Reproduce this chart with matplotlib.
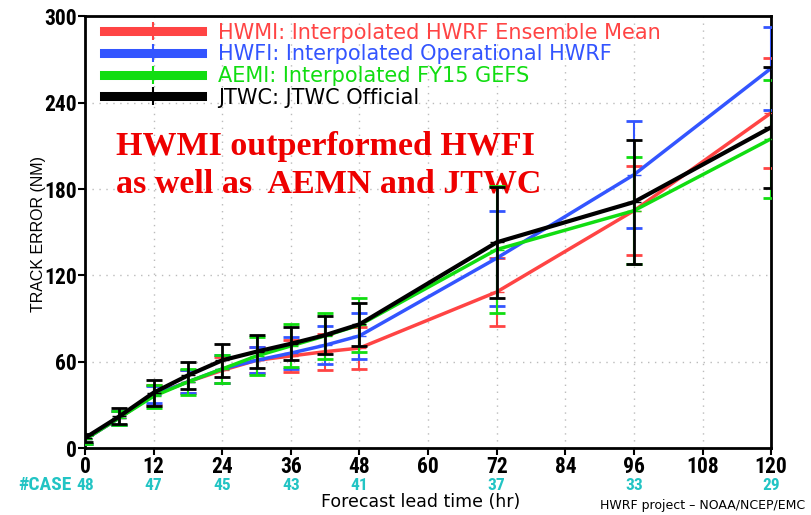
import matplotlib
matplotlib.use("Agg")
import matplotlib.pyplot as plt
from matplotlib.lines import Line2D

# forecast lead times (hr)
hours = [0, 6, 12, 18, 24, 30, 36, 42, 48, 72, 96, 120]

hwmi_mean = [6, 21, 37, 46, 54, 61, 64, 67, 69.5, 108.5, 165, 233]
hwmi_err = [3, 5, 7, 8, 9, 9, 11, 12.5, 14.5, 23.5, 31, 38]
hwfi_mean = [6, 21, 37, 46, 55, 61, 66, 71.5, 78, 132, 190, 264]
hwfi_err = [3, 5, 6, 8, 10, 9, 11, 13, 16, 33, 37, 29]
aemi_mean = [6, 21, 36, 46, 55, 64, 71, 78, 85.5, 138, 165, 215]
aemi_err = [3, 5, 8, 9, 10, 13, 15, 16, 19, 44, 37, 41]
jtwc_mean = [7, 22, 38.5, 50.5, 61, 67, 72.5, 78.5, 86, 143, 171, 223]
jtwc_err = [3, 5.5, 9, 9.5, 11.5, 11.5, 11.5, 13, 15, 38.5, 43, 42]

labels = ["HWMI: Interpolated HWRF Ensemble Mean",
          "HWFI: Interpolated Operational HWRF",
          "AEMI: Interpolated FY15 GEFS",
          "JTWC: JTWC Official"]
colors = ["#ff4444", "#3355ff", "#11dd11", "#000000"]

case_hours = [0, 12, 24, 36, 48, 72, 96, 120]
case_counts = [48, 47, 45, 43, 41, 37, 33, 29]

tickfont = ["Roboto Condensed", "DejaVu Sans"]
cyan = "#22c4c4"

fig = plt.figure(figsize=(8.12, 5.15), dpi=100)
ax = fig.add_axes([0.1047, 0.13, 0.845, 0.838])

series = [(hwmi_mean, hwmi_err), (hwfi_mean, hwfi_err),
          (aemi_mean, aemi_err), (jtwc_mean, jtwc_err)]
for i, (m, e) in enumerate(series):
    lw = 3 if i == 3 else 2.5
    ax.errorbar(hours, m, yerr=e, color=colors[i], lw=lw, elinewidth=2 if i == 3 else 1.5,
                capsize=6, capthick=2, marker="_", markersize=10, zorder=3 + i)

ax.set_xlim(0, 120)
ax.set_ylim(0, 300)
ax.set_xticks(range(0, 121, 12))
ax.set_yticks(range(0, 301, 60))
ax.grid(True, color="#bbbbbb", linestyle=(0, (1, 4)), lw=1)
for s in ax.spines.values():
    s.set_linewidth(2)
ax.tick_params(width=1.5, length=5, labelsize=15.5, pad=1)
for t in ax.get_xticklabels() + ax.get_yticklabels():
    t.set_family(tickfont)
    t.set_fontweight("bold")

handles = [Line2D([0], [0], color=c, lw=6.5, marker="+", markersize=13, markeredgewidth=1.5)
           for c in colors]
leg = ax.legend(handles, labels, loc="upper left", bbox_to_anchor=(0.018, 1.0),
                frameon=False, handlelength=4.7, labelspacing=0.08, borderaxespad=0.0,
                borderpad=0.3, handletextpad=0.8,
                prop={"family": "DejaVu Sans", "size": 15})
for txt, c in zip(leg.get_texts(), colors):
    txt.set_color(c)

ax.text(0.045, 0.655, "HWMI outperformed HWFI\nas well as  AEMN and JTWC",
        transform=ax.transAxes, color="#ee0000", fontsize=24.5, fontweight="bold",
        family=["Liberation Serif", "DejaVu Serif"], linespacing=1.3, va="center")

fig.text(0.047, 0.545, "TRACK ERROR (NM)", rotation=90, ha="center", va="center",
         fontsize=11.5, family=["Liberation Sans", "DejaVu Sans"])
fig.text(0.518, 0.026, "Forecast lead time (hr)", ha="center", va="center",
         fontsize=12.5, family="DejaVu Sans")
fig.text(0.022, 0.058, "#CASE", ha="left", va="center", color=cyan,
         fontsize=14, fontweight="bold", family=tickfont)
for h, n in zip(case_hours, case_counts):
    ax.annotate(str(n), xy=(h, 0), xycoords=("data", "axes fraction"),
                xytext=(0, -37), textcoords="offset pixels", ha="center", va="center",
                color=cyan, fontsize=12.5, fontweight="bold", family=tickfont,
                annotation_clip=False)
fig.text(0.992, 0.018, "HWRF project \u2013 NOAA/NCEP/EMC", ha="right", va="center",
         fontsize=9, family="DejaVu Sans")

fig.savefig("out.png", dpi=100)
